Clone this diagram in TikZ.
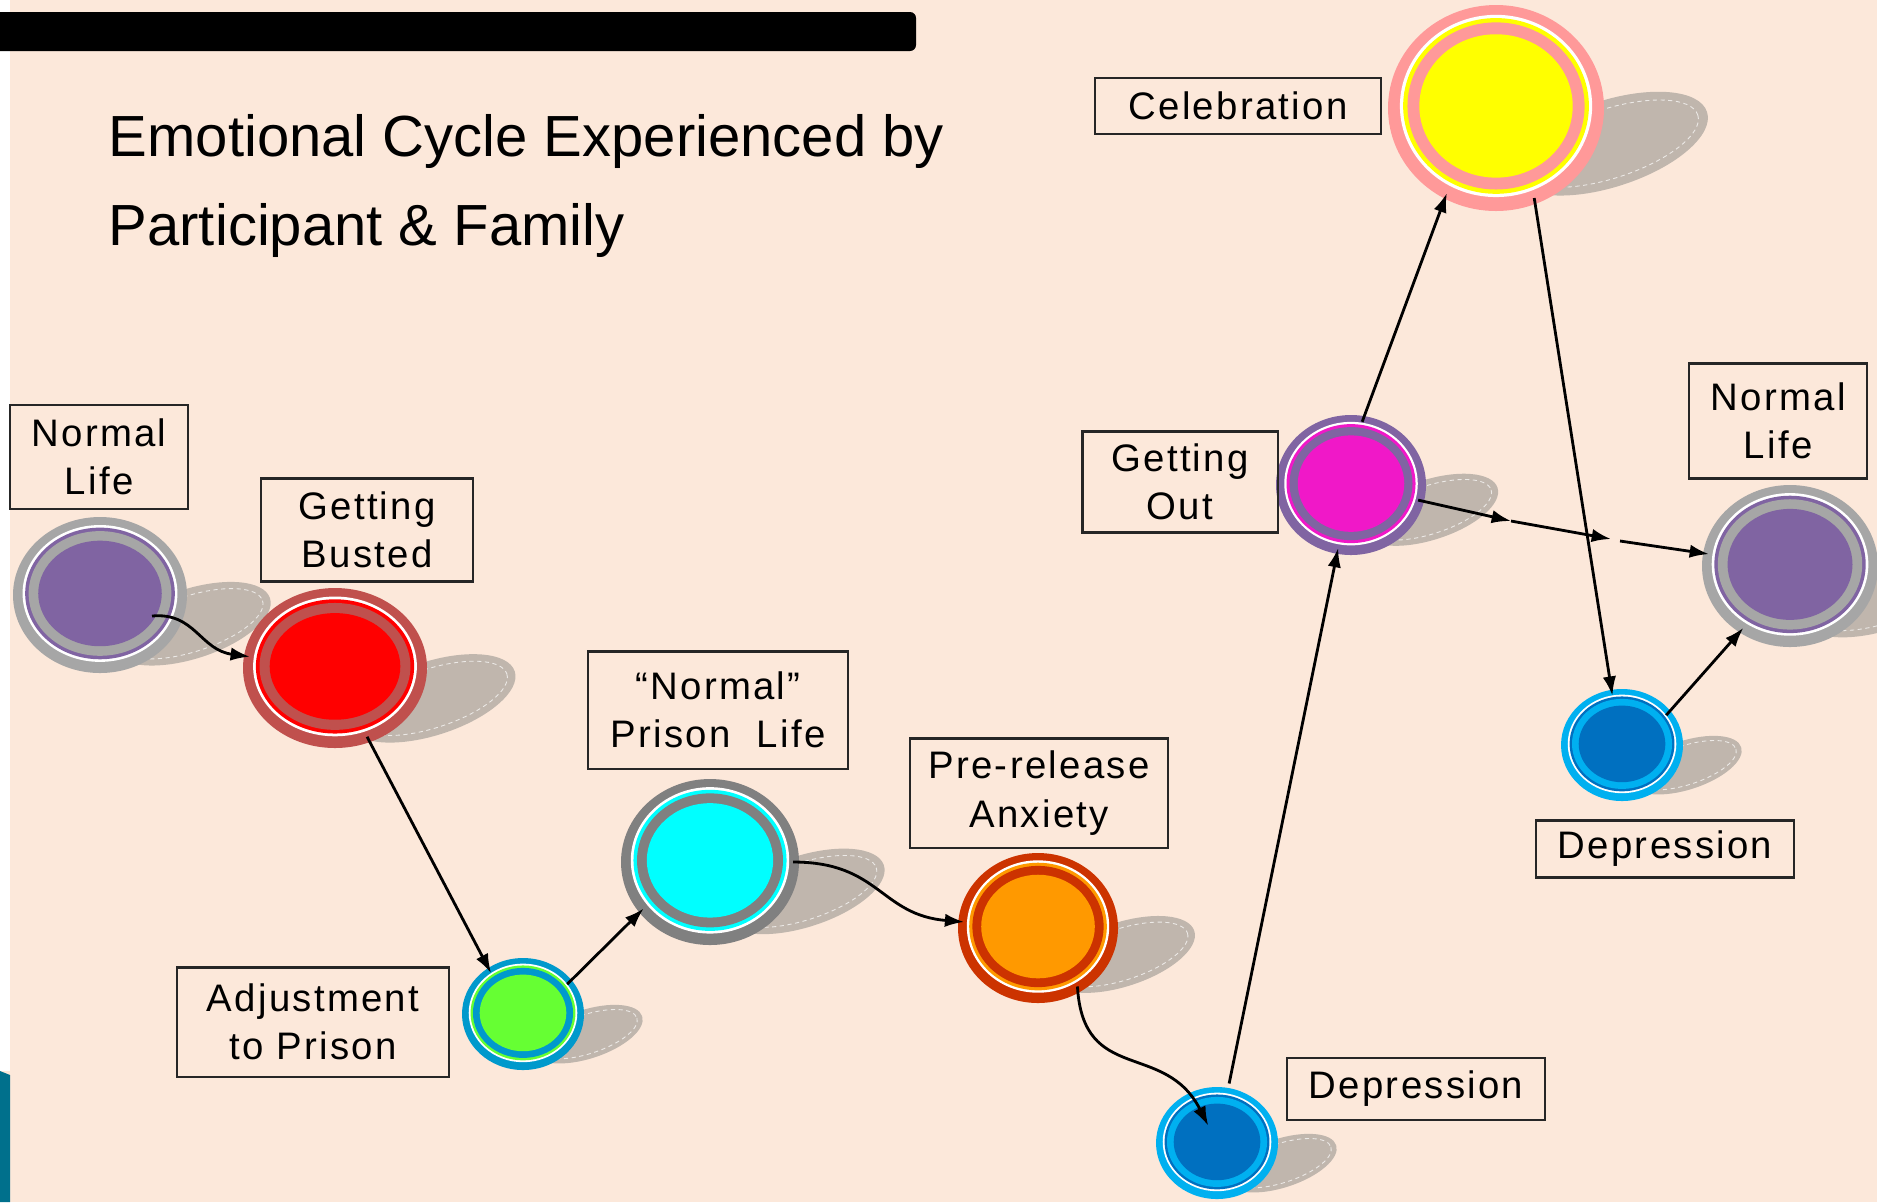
\documentclass[tikz,border=0pt]{standalone}
\usepackage{fontspec}
\setmainfont{Liberation Sans}
\newfontfamily\labelfont{Liberation Sans}[LetterSpace=6]
\usetikzlibrary{shapes.geometric,arrows.meta}

\definecolor{peach}{HTML}{FCE8DA}
\definecolor{shadowgray}{HTML}{C0B6AD}
\definecolor{teal}{HTML}{00708C}
\definecolor{lifepurple}{HTML}{8064A2}
\definecolor{lifegray}{HTML}{A6A6A6}
\definecolor{bustring}{HTML}{C0504D}
\definecolor{bustred}{HTML}{FF0000}
\definecolor{adjring}{HTML}{0099CC}
\definecolor{adjgreen}{HTML}{66FF33}
\definecolor{prisongray}{HTML}{808080}
\definecolor{prisoncyan}{HTML}{00FFFF}
\definecolor{anxring}{HTML}{CC3300}
\definecolor{anxorange}{HTML}{FF9900}
\definecolor{deplight}{HTML}{00B0F0}
\definecolor{depdark}{HTML}{0070C0}
\definecolor{outmagenta}{HTML}{F018C8}
\definecolor{celebpink}{HTML}{FF9999}
\definecolor{celebyellow}{HTML}{FFFF00}

\tikzset{
  orbnode/.style={ellipse,inner sep=0pt,outer sep=0pt},
  lbl/.style={draw=black!85,line width=0.6pt,align=center,inner sep=0pt,
    font=\labelfont\fontsize{10.9}{13.7}\selectfont},
  conn/.style={-{Latex[length=5.5pt,width=3.8pt]},line width=0.8pt}
}

% #1 name, #2 x, #3 y, #4 x radius, #5 y radius, #6 ring colour, #7 core colour
\newcommand{\orb}[7]{%
  \begin{scope}[shift={(#2,#3)}]
    \begin{scope}[shift={({1.05*#4},{0.33*#4})},rotate=18]
      \fill[shadowgray] (0,0) ellipse ({0.95*#4} and {0.4*#4});
      \draw[white,opacity=0.7,line width=0.25pt,dash pattern=on 1.2pt off 1pt]
        (0,0) ellipse ({0.86*#4} and {0.32*#4});
    \end{scope}
    \fill[#6] (0,0) ellipse ({#4} and {#5});
    \fill[white] (0,{-0.02*#5}) ellipse ({0.89*#4} and {#5-0.11*#4});
    \fill[#7] (0,{-0.02*#5}) ellipse ({0.86*#4} and {#5-0.14*#4});
    \fill[#6] (0,{-0.02*#5}) ellipse ({0.82*#4} and {#5-0.18*#4});
    \fill[#7] (0,{-0.02*#5}) ellipse ({0.71*#4} and {#5-0.29*#4});
  \end{scope}
  \node[orbnode,minimum width={(#4-6)*0.02cm},minimum height={(#5-6)*0.02cm}]
    (#1) at (#2,#3) {};
}

\begin{document}
\begin{tikzpicture}[x=0.01cm,y=-0.01cm]
\useasboundingbox (0,0) rectangle (1877,1202);
\fill[peach] (0,0) rectangle (1877,1202);
\fill[white] (0,0) rectangle (10,1071);
\fill[teal] (0,1071) -- (10,1075) -- (10,1202) -- (0,1202) -- cycle;
\fill[black,rounded corners=0.06cm] (-20,12) rectangle (916,51);

\node[anchor=base west,align=left,inner sep=0pt,
  font=\fontsize{16.5}{25.3}\selectfont] (title) at (108,245)
  {Emotional Cycle Experienced by\\Participant \& Family};

% circles
\orb{life}{100}{595}{87}{78}{lifegray}{lifepurple}
\orb{bust}{335}{668}{92}{80}{bustring}{bustred}
\orb{adjust}{523}{1014}{61}{56}{adjring}{adjgreen}
\orb{prison}{710}{862}{89}{83}{prisongray}{prisoncyan}
\orb{anxiety}{1038}{928}{80}{75}{anxring}{anxorange}
\orb{depone}{1217}{1143}{61}{56}{deplight}{depdark}
\orb{getout}{1351}{485}{75}{70}{lifepurple}{outmagenta}
\orb{celeb}{1496}{108}{108}{103}{celebpink}{celebyellow}
\orb{deptwo}{1622}{745}{61}{56}{deplight}{depdark}
\orb{lifeagain}{1790}{566}{88}{81}{lifegray}{lifepurple}

% labels
\node[lbl,minimum width=1.78cm,minimum height=1.04cm] (tlife) at (99,457) {Normal\\Life};
\node[lbl,minimum width=2.12cm,minimum height=1.03cm] (tbust) at (367,530) {Getting\\Busted};
\node[lbl,minimum width=2.72cm,minimum height=1.09cm] (tadjust) at (313,1022) {Adjustment\\to Prison};
\node[lbl,minimum width=2.59cm,minimum height=1.17cm] (tprison) at (718,710) {“Normal”\\Prison~ Life};
\node[lbl,minimum width=2.58cm,minimum height=1.09cm] (tanxiety) at (1039,793) {Pre-release\\Anxiety};
\node[lbl,minimum width=2.58cm,minimum height=0.62cm] (tdepone) at (1416,1089) {Depression};
\node[lbl,minimum width=1.95cm,minimum height=1.01cm] (tgetout) at (1180,482) {Getting\\Out};
\node[lbl,minimum width=2.85cm,minimum height=0.56cm] (tceleb) at (1238,106) {Celebration};
\node[lbl,minimum width=1.78cm,minimum height=1.15cm] (tlifeagain) at (1778,421) {Normal\\Life};
\node[lbl,minimum width=2.58cm,minimum height=0.57cm] (tdeptwo) at (1665,849) {Depression};

% connectors
\coordinate (lifestart) at (152,616);
\coordinate (stepa) at (1511,521);
\coordinate (stepb) at (1611,539);
\coordinate (stepc) at (1620,541);

\draw[conn] (lifestart) .. controls (195,612) and (200,650) .. (bust);
\draw[conn] (bust.-65) -- (adjust.128);
\draw[conn] (adjust.34) -- (prison.-145);
\draw[conn] (prison) .. controls (880,862) and (880,915) .. (anxiety);
\draw[conn,shorten >=-9pt] (anxiety.-56) .. controls (1083,1085) and (1165,1040) .. (depone);
\draw[conn,shorten <=3pt] (depone) -- (getout);
\draw[conn] (getout.80) -- (celeb.-120);
\draw[conn] (celeb.-67) -- (deptwo.101);
\draw[conn] (deptwo.34) -- (lifeagain.-127);
\draw[conn] (getout) -- (stepa);
\draw[conn] (stepa) -- (stepb);
\draw[conn] (stepc) -- (lifeagain);

\end{tikzpicture}
\end{document}
